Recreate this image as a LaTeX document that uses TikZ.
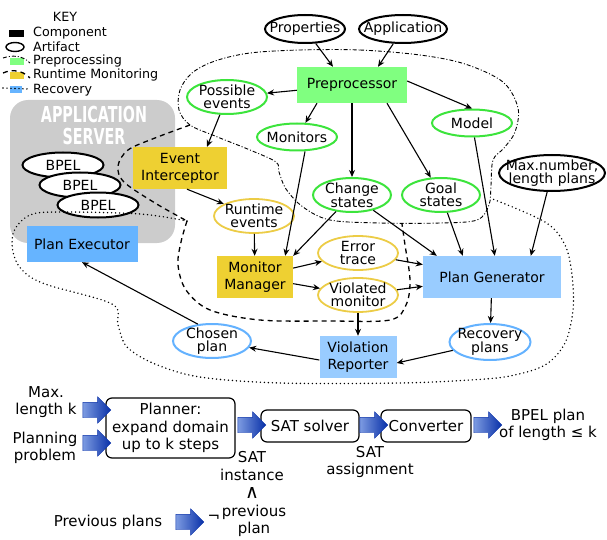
\documentclass[tikz,border=0pt]{standalone}
\usepackage{fontspec}
\setmainfont{DejaVu Sans}
\newfontfamily\condfont[FakeStretch=0.65]{DejaVu Sans}
\usetikzlibrary{shapes.geometric,shapes.arrows,arrows.meta}

\definecolor{prepfill}{RGB}{128,255,128}
\definecolor{prepedge}{RGB}{60,228,60}
\definecolor{monfill}{RGB}{238,208,50}
\definecolor{monedge}{RGB}{236,204,70}
\definecolor{recfill}{RGB}{153,204,255}
\definecolor{pexfill}{RGB}{102,180,255}
\definecolor{recedge}{RGB}{100,178,255}
\definecolor{appgray}{RGB}{204,204,204}
\definecolor{arrowdark}{RGB}{8,48,168}
\definecolor{arrowlight}{RGB}{125,155,225}

\newcommand{\nodefont}{\fontsize{14}{12.5}\selectfont}
\newcommand{\boxfont}{\fontsize{14}{17}\selectfont}
\newcommand{\keyfont}{\fontsize{12.7}{14.5}\selectfont}
\newcommand{\planfont}{\fontsize{15}{17.5}\selectfont}

\tikzstyle{comp} = [rectangle,inner sep=0pt,align=center,font=\boxfont]
\tikzstyle{art} = [ellipse,draw=black,fill=white,line width=2pt,inner xsep=-12pt,inner ysep=-4pt,align=center,font=\nodefont,minimum width=80,minimum height=28]
\tikzstyle{artp} = [art,draw=prepedge,minimum height=34]
\tikzstyle{artm} = [art,draw=monedge,line width=1.8pt,minimum height=34]
\tikzstyle{artr} = [art,draw=recedge,minimum height=34]
\tikzstyle{bpel} = [art,minimum width=81,minimum height=25]
\tikzstyle{keytext} = [anchor=west,inner sep=0pt,font=\keyfont]
\tikzstyle{stepbox} = [rectangle,draw=black,line width=1.2pt,rounded corners=6pt,fill=white,inner sep=0pt,align=center,font=\planfont]
\tikzstyle{planlabel} = [inner sep=0pt,align=center,font=\planfont]
\tikzstyle{barrow} = [single arrow,inner sep=0pt,minimum width=0pt,text width=0pt,text height=7.5pt,text depth=7.5pt,minimum height=28pt,single arrow head extend=5.5pt,left color=arrowlight,right color=arrowdark,draw=arrowdark,line width=0.4pt]
\tikzstyle{prepborder} = [line width=0.9pt,dash pattern=on 4pt off 2pt on 1pt off 2pt]
\tikzstyle{monborder} = [line width=1.3pt,dash pattern=on 5pt off 4pt]
\tikzstyle{recborder} = [line width=1.6pt,line cap=round,dash pattern=on 0pt off 4pt]

\begin{document}
\begin{tikzpicture}[x=1pt,y=-1pt,>={Stealth[length=7pt,width=6pt]},edge/.style={->,line width=1.1pt}]
	\useasboundingbox (0,0) rectangle (607,540);
	% key
	\node (keytitle) at (65,17) [font=\keyfont] {KEY};
	\fill (9,30) rectangle (24,37);
	\node (kcomp) [keytext] at (33,33) {Component};
	\draw [line width=1.4pt] (15,47) ellipse (9 and 4.5);
	\node (kart) [keytext] at (33,47) {Artifact};
	\fill [prepfill] (10,58) rectangle (24,65);
	\draw [prepborder] (3,58) .. controls (12,55) and (22,55) .. (30,63);
	\node (kprep) [keytext] at (33,61) {Preprocessing};
	\fill [monfill] (10,72) rectangle (24,79);
	\draw [monborder] (3,73) .. controls (12,69) and (22,70) .. (30,78);
	\node (kmon) [keytext] at (33,75) {Runtime Monitoring};
	\fill [pexfill] (10,86) rectangle (22,93);
	\draw [recborder] (3,88) -- (28,89);
	\node (krec) [keytext] at (33,90) {Recovery};
	% application server
	\fill [appgray,rounded corners=18pt] (10,100) rectangle (175,243);
	\node (appname) at (94,114) [text=white,font=\condfont\bfseries\fontsize{22}{23}\selectfont] {APPLICATION};
	\node (srvname) at (94,136) [text=white,font=\condfont\bfseries\fontsize{22}{23}\selectfont] {SERVER};
	\node (bpel1) [bpel] at (63,165) {BPEL};
	\node (bpel2) [bpel] at (80,185) {BPEL};
	\node (bpel3) [bpel] at (98,205) {BPEL};
	% phases
	\draw [prepborder] plot [smooth cycle,tension=0.55] coordinates {(300,50) (360,50) (420,55) (465,64) (503,82) (518,108) (515,132) (504,148) (493,160) (491,185) (489,205) (477,220) (440,223) (380,223) (330,220) (303,207) (286,189) (279,172) (276,162) (250,150) (215,136) (190,125) (179,110) (180,90) (192,73) (215,61) (250,53)};
	\draw [monborder] plot [smooth,tension=0.55] coordinates {(190,125) (155,138) (128,150) (118,166) (124,182) (155,203) (187,221)};
	\draw [monborder] plot [smooth,tension=0.55] coordinates {(187,221) (181,242) (178,265) (186,290) (210,310) (260,320) (330,321) (390,320) (406,305) (410,280) (405,245) (402,224)};
	\draw [recborder] plot [smooth,tension=0.55] coordinates {(187,221) (140,214) (60,212) (30,215) (14,231) (13,252) (22,270) (45,284) (112,304) (118,325) (127,347) (155,364) (200,377) (280,383) (400,383) (470,380) (510,376) (545,365) (565,343) (573,310) (572,275) (565,245) (545,222) (490,198)};
	% components and artifacts
	\node (prop) [art] at (305,29) {Properties};
	\node (appl) [art,minimum width=88] at (403,29) {Application};
	\node (prep) [comp,fill=prepfill,minimum width=110,minimum height=36] at (352,85) {Preprocessor};
	\node (pev) [artp] at (227,97) {Possible\\events};
	\node (mons) [artp,minimum height=27] at (297,137) {Monitors};
	\node (model) [artp,minimum height=27] at (472,123) {Model};
	\node (chst) [artp,minimum width=78] at (352,195) {Change\\states};
	\node (gost) [artp,minimum width=78] at (441,195) {Goal\\states};
	\node (maxn) [art,minimum width=106,minimum height=36] at (552,173) {Max.number,\\length plans};
	\node (evint) [comp,fill=monfill,minimum width=94,minimum height=42] at (180,168) {Event\\Interceptor};
	\node (rtev) [artm] at (254,216) {Runtime\\events};
	\node (monman) [comp,fill=monfill,minimum width=76,minimum height=42] at (255,277) {Monitor\\Manager};
	\node (errtr) [artm] at (358,253) {Error\\trace};
	\node (viol) [artm] at (358,295) {Violated\\monitor};
	\node (vrep) [comp,fill=recfill,minimum width=77,minimum height=42] at (358,357) {Violation\\Reporter};
	\node (chpl) [artr,minimum width=78] at (212,341) {Chosen\\plan};
	\node (pgen) [comp,fill=recfill,minimum width=138,minimum height=42] at (492,277) {Plan Generator};
	\node (recpl) [artr,minimum width=81,minimum height=36] at (490,342) {Recovery\\plans};
	\node (pexec) [comp,fill=pexfill,minimum width=111,minimum height=36] at (82,244) {Plan Executor};
	\draw [edge] (prop) -- ([xshift=-19pt]prep.north);
	\draw [edge] (appl) -- ([xshift=26pt]prep.north);
	\draw [edge] (prep) -- (pev);
	\draw [edge] ([xshift=-35pt]prep.south) -- (mons);
	\draw [edge] (prep) -- (chst);
	\draw [edge] ([xshift=35pt]prep.south) -- (gost);
	\draw [edge] ([yshift=4pt]prep.east) -- (model.north);
	\draw [edge] (pev) -- ([xshift=27pt]evint.north);
	\draw [edge] ([xshift=7pt]evint.south) -- (rtev);
	\draw [edge] (rtev) -- (monman);
	\draw [edge] ([xshift=8pt]mons.south) -- ([xshift=-8pt]monman.north east);
	\draw [edge] (chst) -- (monman.north east);
	\draw [edge] (chst) -- ([xshift=14pt]pgen.north west);
	\draw [edge] (gost) -- ([xshift=40pt]pgen.north west);
	\draw [edge] (model) -- ([xshift=72pt]pgen.north west);
	\draw [edge] (maxn) -- ([xshift=108pt]pgen.north west);
	\draw [edge] (monman) -- (errtr);
	\draw [edge] (monman) -- (viol);
	\draw [edge] (errtr) -- (pgen);
	\draw [edge] (viol) -- (pgen);
	\draw [edge] (viol) -- (vrep);
	\draw [edge] (pgen) -- (recpl);
	\draw [edge] (recpl) -- ([yshift=-6pt]vrep.east);
	\draw [edge] ([yshift=-3pt]vrep.west) -- (chpl);
	\draw [edge] (chpl.130) -- (pexec.south);
	% planner
	\node (planner) [stepbox,minimum width=129,minimum height=60] at (170.5,428) {Planner:\\expand domain\\up to k steps};
	\node (satsol) [stepbox,minimum width=98,minimum height=32] at (310,426) {SAT solver};
	\node (conv) [stepbox,minimum width=90,minimum height=32] at (426,426) {Converter};
	\node (inarr1) [barrow] at (93,410) {};
	\node (inarr2) [barrow] at (93,443) {};
	\node (satarr) [barrow] at (248,425) {};
	\node (convarr) [barrow] at (370,425) {};
	\node (outarr) [barrow] at (484,425) {};
	\node (prevarr) [barrow] at (186,522) {};
	\node (maxk) [planlabel] at (46,402) {Max.\\length k};
	\node (plprob) [planlabel] at (45,448) {Planning\\problem};
	\node (bpelout) [planlabel] at (548,425) {BPEL plan\\of length ≤ k};
	\node (satinst) [planlabel] at (252,466) {SAT\\instance};
	\node (andsym) [planlabel,font=\fontsize{19}{19}\selectfont,text height=9pt,text depth=0pt] at (252,494) {∧};
	\node (prevplan) [planlabel] at (254,521) {previous\\plan};
	\node (negsym) [planlabel] at (214,518) {¬};
	\node (satassign) [planlabel] at (370,462) {SAT\\assignment};
	\node (prevlab) [planlabel] at (108,522) {Previous plans};
\end{tikzpicture}
\end{document}
